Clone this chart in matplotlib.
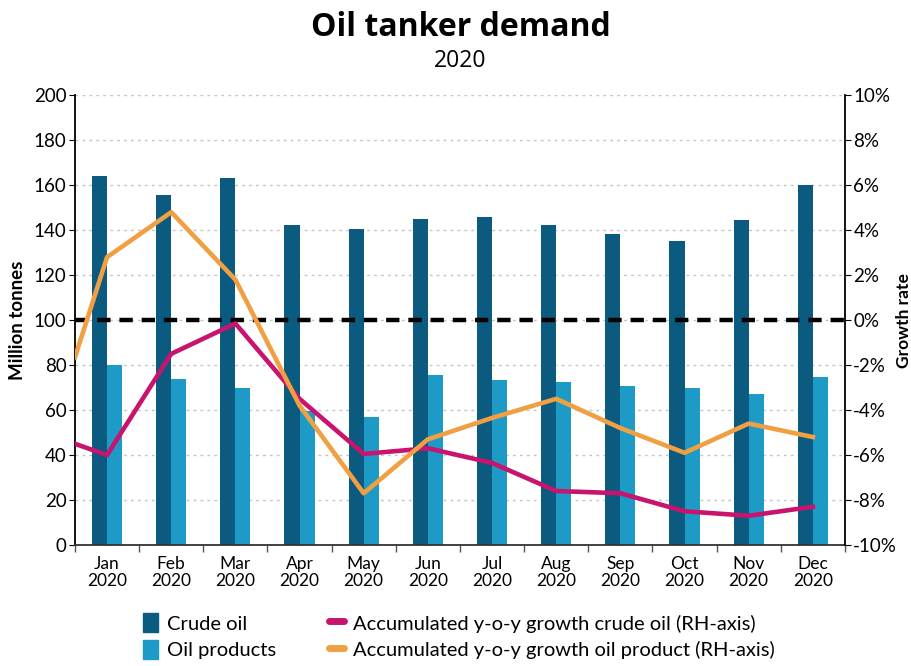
import numpy as np
import matplotlib.pyplot as plt
from matplotlib.patches import Patch
from matplotlib.lines import Line2D

plt.rcParams['font.family'] = ['Lato', 'DejaVu Sans']

months = ['Jan', 'Feb', 'Mar', 'Apr', 'May', 'Jun',
          'Jul', 'Aug', 'Sep', 'Oct', 'Nov', 'Dec']
year = '2020'

# million tonnes per month
crude_oil = [164, 155.5, 163, 142.5, 140.5, 145, 146, 142.5, 138.5, 135, 144.5, 160]
oil_products = [80, 74, 70, 59.5, 57, 75.5, 73.3, 72.6, 70.8, 69.9, 67.1, 74.8]

# accumulated y-o-y growth (%), first value is the carry-in from end of 2019
growth_crude = [-5.5, -6.0, -1.5, -0.15, -3.5, -5.95, -5.7, -6.35, -7.6, -7.7, -8.5, -8.7, -8.3]
growth_products = [-1.65, 2.8, 4.8, 1.8, -3.8, -7.7, -5.3, -4.35, -3.5, -4.8, -5.9, -4.6, -5.2]

c_crude = '#0b5a80'
c_prod = '#1d9ac6'
c_pink = '#c8146e'
c_orange = '#f0a042'

fig = plt.figure(figsize=(9.12, 6.66), dpi=100)
ax = fig.add_axes([0.0822, 0.1817, 0.8443, 0.6753])

x = np.arange(len(months))
w = 0.235
ax.bar(x - w / 2, crude_oil, w, color=c_crude, zorder=2)
ax.bar(x + w / 2, oil_products, w, color=c_prod, zorder=2)

ax.set_xlim(-0.5, len(months) - 0.5)
ax.set_ylim(0, 200)
ax.set_yticks(np.arange(0, 201, 20))
ax.grid(axis='y', linestyle=(0, (2, 3)), color='#c4c4c4', linewidth=1)
ax.set_axisbelow(True)

ax.set_xticks(x)
ax.set_xticklabels([f'{m}\n{year}' for m in months], fontsize=12.5, linespacing=1.05)
ax.set_xticks(np.arange(len(months) + 1) - 0.5, minor=True)
ax.tick_params(axis='x', which='major', length=0, pad=8)
ax.tick_params(axis='x', which='minor', length=5, width=1, color='#555555')
ax.tick_params(axis='y', labelsize=13.5, length=4, pad=2)
ax.set_ylabel('Million tonnes', fontsize=13.5, fontweight='bold', labelpad=6)

for s in ['top', 'right']:
    ax.spines[s].set_visible(False)
ax.spines['left'].set_linewidth(1.3)
ax.spines['bottom'].set_linewidth(1.3)
ax.spines['bottom'].set_color('#333333')

ax2 = ax.twinx()
ax2.set_ylim(-10, 10)
ax2.set_yticks(np.arange(-10, 11, 2))
ax2.set_yticklabels([f'{v}%' for v in range(-10, 11, 2)])
ax2.tick_params(axis='y', labelsize=13.5, length=4, pad=2)
ax2.set_ylabel('Growth rate', fontsize=12.5, fontweight='bold', labelpad=-1)
for s in ['top', 'left', 'bottom']:
    ax2.spines[s].set_visible(False)
ax2.spines['right'].set_linewidth(1.3)

ax2.axhline(0, color='black', linewidth=3.2, linestyle=(0, (3, 2)), zorder=3)

lx = np.r_[-0.5, x]
ax2.plot(lx, growth_crude, color=c_pink, linewidth=3.3, solid_joinstyle='round', zorder=4)
ax2.plot(lx, growth_products, color=c_orange, linewidth=3.3, solid_joinstyle='round', zorder=4)

fig.text(0.505, 0.958, 'Oil tanker demand', ha='center', va='center',
         fontsize=23, fontweight='bold', family=['Open Sans', 'DejaVu Sans'])
fig.text(0.505, 0.908, year, ha='center', va='center', fontsize=16.5,
         family=['Open Sans', 'DejaVu Sans'])

handles = [
    Patch(color=c_crude, label='Crude oil'),
    Patch(color=c_prod, label='Oil products'),
    Line2D([], [], color=c_pink, linewidth=5, solid_capstyle='round',
           label='Accumulated y-o-y growth crude oil (RH-axis)'),
    Line2D([], [], color=c_orange, linewidth=5, solid_capstyle='round',
           label='Accumulated y-o-y growth oil product (RH-axis)'),
]
fig.legend(handles=handles, ncol=2, loc='center', bbox_to_anchor=(0.503, 0.045),
           frameon=False, fontsize=14.5, handlelength=0.75, handleheight=1.1,
           handletextpad=0.45, columnspacing=2.6, labelspacing=0.35)

fig.savefig('out.png', dpi=100)
